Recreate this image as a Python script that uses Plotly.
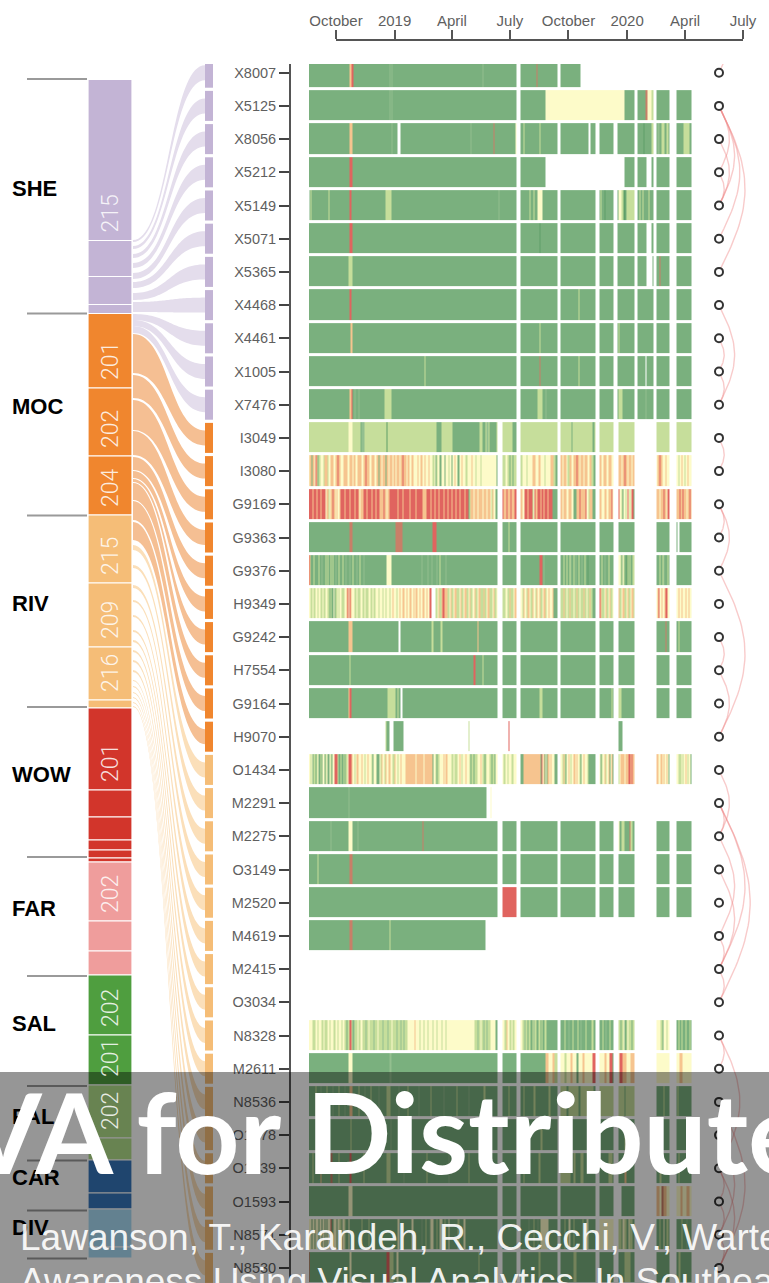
import numpy as np
import pandas as pd
import plotly.graph_objects as go

W, H = 769, 1283

# ---------------------------------------------------------------- cabinets (left stacked bar)
stack_start = 79.5
stack_heights = [161, 36, 28, 9, 74.5, 68, 59, 68, 64, 53, 8, 82, 27, 23, 10, 8, 4,
                 59, 30, 24, 60, 50, 53, 22, 33, 16, 38, 11]
stack_colors = ["#c3b4d5"] * 4 + ["#f0862e"] * 3 + ["#f5bd77"] * 4 + ["#d2352b"] * 6 + \
               ["#ef9d9c"] * 3 + ["#4f9e3f"] * 2 + ["#b2df8a"] * 2 + ["#3676bc"] * 2 + ["#a9dbf5"] * 2
stack_labels = ["215", "", "", "", "201", "202", "204", "215", "209", "216", "", "201", "", "", "", "", "",
                "202", "", "", "202", "201", "202", "", "", "", "", ""]
group_names = ["SHE", "MOC", "RIV", "WOW", "FAR", "SAL", "PAL", "CAR", "DIV"]
group_label_y = [188, 406, 603, 774, 908, 1023, 1116, 1177, 1227]
group_rule_y = [79, 313.5, 515.5, 707, 857, 976, 1086, 1160.5, 1210.5, 1258.5]

# ---------------------------------------------------------------- sensors
sensors = ["X8007", "X5125", "X8056", "X5212", "X5149", "X5071", "X5365", "X4468", "X4461", "X1005", "X7476",
           "I3049", "I3080", "G9169", "G9363", "G9376", "H9349", "G9242", "H7554", "G9164", "H9070",
           "O1434", "M2291", "M2275", "O3149", "M2520", "M4619", "M2415", "O3034", "N8328", "M2611",
           "N8536", "O1478", "O1039", "O1593", "N8571", "N8530"]
sensor_colors = ["#c3b4d5"] * 11 + ["#f0862e"] * 10 + ["#f5bd77"] * 16
ribbon_colors = ["#e4ddec"] * 11 + ["#f5bf93"] * 10 + ["#fbdfb9"] * 16
ribbon_top = [240, 246, 254, 263, 273, 282, 293, 302, 314, 320, 326,
              334, 375, 400, 431, 457, 471, 479, 483, 501, 522,
              545, 565, 585, 600, 615, 630, 640, 650, 660, 670, 680, 686, 692, 697, 702, 706]
ribbon_bottom = [242, 249, 258, 268, 279, 288, 300, 312, 320, 326, 333,
                 373, 398, 430, 455, 470, 478, 482, 500, 520, 540,
                 550, 568, 588, 602, 617, 632, 642, 652, 662, 672, 681, 687, 693, 698, 703, 707]

# ---------------------------------------------------------------- status timeline, one column = 1.57 days
start_date = "2018-08-20"
n_cols = 383
status_colors = {"g": "#7ab07e", "d": "#5f9f68", "m": "#93bf8f", "l": "#c6de9b", "y": "#fdfbc9",
                 "o": "#f6c48f", "b": "#c87f68", "r": "#e0645f"}
status_codes = list(status_colors)

gaps_top = [(208, 212), (249, 252), (287, 291), (305, 309), (326, 329), (345, 348), (361, 368)]
gaps_low = [(189, 194), (208, 212), (249, 252), (287, 291), (305, 310), (326, 348), (361, 368)]
first_low_row = 11

base_status = ["g"] * 37
base_status[11] = "l"
base_status[20] = base_status[27] = base_status[28] = "w"

marks = {
    0: [(41, 43, "o"), (43, 45, "r"), (81, 82, "m"), (83, 84, "m"), (174, 175, "m"), (228, 229, "b"), (272, 383, "w")],
    1: [(81, 82, "m"), (83, 84, "m"), (237, 316, "y"), (249, 252, "y"), (287, 291, "y"), (305, 309, "y"),
        (337, 339, "b"), (339, 343, "y"), (343, 345, "l")],
    2: [(41, 43, "o"), (43, 44, "o"), (83, 84, "m"), (89, 92, "w"), (162, 163, "m"), (185, 186, "b"),
        (207, 208, "y"), (215, 216, "l"), (231, 232, "l"), (280, 282, "w"), (335, 336, "d"), (343, 345, "l"),
        (349, 351, "m"), (353, 356, "l"), (358, 360, "l"), (375, 381, "l")],
    3: [(41, 44, "r"), (237, 316, "w"), (338, 343, "w")],
    4: [(0, 1, "w"), (2, 3, "l"), (20, 21, "l"), (41, 43, "r"), (77, 83, "l"), (190, 191, "m"), (221, 222, "l"),
        (225, 226, "l"), (229, 234, "y"), (292, 293, "l"), (296, 297, "d"), (310, 313, "y"), (313, 315, "l"),
        (315, 317, "d"), (318, 320, "l"), (320, 326, "l"), (331, 332, "l"), (334, 335, "l"), (340, 341, "l")],
    5: [(41, 44, "r"), (231, 232, "d"), (338, 343, "w"), (345, 348, "w")],
    6: [(40, 44, "l"), (338, 344, "w"), (351, 352, "b")],
    7: [(41, 43, "r"), (270, 271, "l")],
    8: [(42, 44, "o"), (231, 232, "l"), (310, 311, "l")],
    9: [(116, 117, "l"), (231, 232, "b"), (270, 271, "l"), (337, 338, "w")],
    10: [(41, 43, "o"), (43, 44, "r"), (46, 47, "m"), (50, 51, "m"), (76, 83, "l"), (229, 234, "l"), (237, 238, "m"),
         (310, 314, "l"), (337, 338, "m")],
    11: [(40, 44, "y"), (52, 53, "g"), (53, 56, "m"), (78, 79, "d"), (128, 133, "g"), (144, 171, "g"),
         (171, 174, "l"), (174, 177, "g"), (178, 180, "m"), (181, 188, "g"), (204, 208, "g"),
         (263, 264, "g"), (284, 286, "g")],
    14: [(41, 44, "b"), (87, 94, "b"), (124, 128, "r"), (200, 201, "l"), (369, 371, "w")],
    15: [(65, 78, "g"), (78, 83, "y")],
    16: [(41, 42, "r"), (42, 43, "o")],
    17: [(40, 44, "o"), (90, 92, "w"), (123, 125, "l"), (132, 134, "l"), (169, 170, "o"), (357, 358, "b"),
         (370, 371, "l")],
    18: [(41, 42, "l"), (165, 167, "r"), (174, 175, "l")],
    19: [(40, 41, "o"), (41, 43, "r"), (79, 87, "l"), (89, 90, "l"), (92, 94, "w"), (231, 234, "l"), (303, 304, "l"),
         (310, 313, "l")],
    20: [(77, 78, "l"), (78, 81, "g"), (85, 95, "g"), (160, 161, "l"), (200, 201, "r"), (310, 314, "g")],
    21: [(40, 43, "r")],
    22: [(40, 41, "m"), (178, 383, "w"), (182, 183, "y")],
    23: [(22, 23, "m"), (40, 44, "y"), (49, 50, "m"), (114, 115, "b"), (310, 311, "y"), (313, 316, "l"),
         (321, 322, "b"), (322, 324, "l")],
    24: [(9, 10, "l"), (41, 44, "b")],
    25: [(189, 190, "o"), (194, 208, "r")],
    26: [(41, 44, "b"), (81, 82, "l"), (177, 383, "w")],
    29: [(36, 38, "l"), (41, 43, "r"), (44, 45, "g")],
    30: [(40, 44, "y"), (81, 83, "m"), (237, 240, "o"), (240, 244, "y"), (244, 246, "o"), (246, 249, "l"),
         (252, 256, "y"), (256, 258, "l"), (258, 262, "y"), (262, 264, "o"), (264, 268, "y"), (268, 270, "g"),
         (270, 274, "y"), (274, 276, "o"), (276, 284, "y"), (284, 287, "r"), (291, 296, "y"), (296, 298, "o"),
         (298, 301, "y"), (301, 304, "r"), (310, 311, "y"), (311, 314, "r"), (314, 318, "o"), (318, 322, "y"),
         (322, 326, "o"), (348, 361, "y"), (368, 371, "y"), (371, 374, "o"), (374, 383, "y")],
    31: [(7, 8, "l"), (12, 13, "m"), (18, 19, "l"), (24, 25, "m"), (30, 31, "l"), (36, 37, "m"), (41, 44, "o"),
         (50, 51, "l"), (56, 57, "m"), (62, 63, "l"), (70, 71, "m"), (78, 82, "l"), (90, 91, "m"), (99, 100, "l"),
         (110, 111, "m"), (122, 123, "l"), (135, 136, "m"), (148, 149, "l"), (160, 161, "m"), (175, 177, "l"),
         (200, 201, "l"), (215, 216, "l"), (225, 227, "l"), (240, 242, "l"), (252, 285, "l"), (258, 260, "g"),
         (270, 272, "g"), (291, 305, "l"), (310, 326, "l"), (316, 317, "g"), (355, 356, "l"), (369, 370, "l")],
    32: [(42, 43, "l"), (82, 83, "m"), (232, 234, "l"), (316, 318, "l")],
    33: [(4, 5, "l"), (12, 13, "o"), (22, 24, "b"), (30, 31, "l"), (41, 43, "r"), (55, 56, "l"), (78, 82, "l"),
         (95, 96, "m"), (118, 119, "l"), (140, 141, "m"), (160, 161, "l"), (215, 216, "l"), (230, 232, "l"),
         (252, 262, "l"), (265, 267, "l"), (272, 275, "l"), (300, 304, "l"), (316, 318, "o"), (351, 353, "l"),
         (370, 371, "l")],
    34: [(40, 44, "y"), (306, 313, "w"), (348, 351, "o"), (351, 353, "y"), (353, 355, "b"), (355, 358, "o"),
         (358, 361, "y"), (368, 372, "y"), (372, 374, "o"), (374, 378, "y"), (378, 381, "o"), (381, 383, "y")],
    36: [(0, 1, "r"), (41, 43, "y"), (78, 81, "r"), (81, 85, "l"), (88, 90, "y"), (170, 171, "l"), (230, 232, "l"),
         (265, 268, "l"), (316, 322, "l"), (370, 372, "l")],
}

stripes = {
    12: [(0, "y1 o2 g1 o2 y1 r1 o1 g1 l2 y3 l1 o3 l1 y2 o3 y2 o2 r1 o2 y3 o4 y2 o3 y1 o2 y2 o1 o3 y2 o2 r1 o3 y2 o3 y2 o2"),
         (71, "o2 y1 o3 g1 o2 y1 o3 y1 o2 y1 o3 y1 o2 r1 o3 y1 o2 y2 o2 y2 y2 o1 y2 o2 y2 o1 y3 o1 y3 l2 y1 g1 l1 y2 g2 y3 g1 y3 l1 y2 g1 y2 o1 y2 g2 y2 o1 y3 l2 y4 o1 y3 l1 y4 l1 y15"),
         (194, "l3 y2 l2 g1 l2 g1 l3"), (212, "l2 y4 l1 y5 o3 y3 o2 y4 l1 y5 o3 l2 g1"),
         (252, "o2 y1 o3 y1 l2 o2 y2 o3 r1 o2 y1 o3 y1 o3 y2 o2 l2"), (291, "o2 y2 o3 y2 o3 y2"),
         (310, "o3 y1 o2 r1 o2 y1 o3 y1 o2"), (348, "y1 o2 r1 o2 y3 o1 y3"), (368, "y2 l1 y2 o1 y2 l1 y2 o1 y3")],
    13: [(0, "r4 o1 r3 o1 r3 o1 r4 y1 o2 l1 y1 o2 r1 o2 y1 o1 y2 o1 r4 o1 r4 o1 r4 o1 r3 o1 y1 o3 r3 o1 r4 o1 r3 o1 r4"),
         (71, "o4 r1 o2 y1 o2 r3 r5 o1 r4 o1 r6 o1 r5 o1 r6 o4 r4 o1 r3 o1 r3 o1 r4 o1 r3 o1 r3 o1 r3 o1 r3 o1 r4 o1 r3 g1 l1 o3 y1 o3 y1 o4 y1 o3 y1 o3 y1 l1 o1 y2"),
         (194, "r1 o3 r1 o3 r1 o3 r2"), (212, "o2 y2 r3 o1 r4 l1 y1 r1 o2 r3 o1 r2 o1 r3 o1 r4"),
         (252, "o2 y1 o3 y2 o3 y2 g3 o3 r1 o5 r1 y2 l1 o3"), (291, "o2 y3 o2 y2 o3 r1 y1"),
         (310, "r1 y2 l1 g1 y2 l1 y1 r1 y1 l1 y1 r2"), (348, "o3 y1 o3 r1 o2 y1 r2"),
         (368, "o3 r1 o2 r1 o3 y1 o2 r1 o1")],
    15: [(0, "r1 o1 g3 l1 g4 l1 g2 m1 g3 l1 g1 l1 g2 l1 g1 l1 g2 m1 g2 l1 g3 l1 g2 m1 g3 m1 g2 l1 g3 m1 g2 l1 g3 m1 g2"),
         (83, "g30 m1 g5 m1 g3 m1 g4 m1 g2 l1 g5 m1 g40"), (194, "g14"), (212, "g19 r3 g1 m1 g4 g10"),
         (252, "g3 l1 g2 l1 g2 l1 m1 g2 l1 g1 m1 g2 l1 g2 m1 g2 l1 g2 d1 g3"), (291, "g2 l1 g2 m1 g3 l1 g4"),
         (310, "y2 l1 g1 y1 l1 g2 d1 l1 g1 l1 g2 l2"), (348, "g3 l1 g2 l1 m1 g3 l1"), (368, "g15")],
    16: [(0, "y2 l2 y1 l2 y2 l1 y2 l2 y1 l2 y2 l2 g1 l1 g2 y1 g1 l2 y1 l1 y2 l3 y2 o1 r1 y1 l2 y3 l2 y1 l3 y2 l2 y1 l3 y2 l2 y1 l2 y3 l1 y2 l2 y1"),
         (71, "y3 l1 y2 l1 y3 l1 y2 o1 y3 l1 y2 o1 y2 o2 y2 o1 y2 o2 y2 o1 y1 o2 y2 o1 y2 o2 y2 o1 y2 r2 w4"),
         (127, "l2 y1 o1 l2 o1 r2 o3 l2 y1 o1 l2 y1 o2 l3 y1 o1 l2 y1 o2 l2 y1 o1 l2 y2 o1 l2 y1 o2 l3 o1 l2 y1 o2 l3 y1 o1 l2 y2"),
         (194, "l3 y2 l2 o1 l3 y1 o2"), (212, "y2 l1 o1 y2 l1 o2 y1 l2 o1 y2 l1 o1 y2 o1 l2 y1 o2 l1 y2 o1 y3 o1"),
         (252, "l3 o1 l2 y1 l2 o1 l3 y1 l2 o1 l2 y1 l3 o1 l2 y1 l2 o1 l2"), (291, "r1 o1 l3 y1 o1 l2 y1 o1 l2 y1"),
         (310, "o1 l2 y1 o2 l2 y1 o1 l2 y1 o2 l1"), (348, "y1 o1 r1 y2 o1 y2 o1 r2 y2"),
         (368, "y2 o1 y2 o1 y3 o1 y2 o1 y2")],
    21: [(0, "y2 l1 y1 g1 l2 g1 l1 y1 g2 l1 g1 y2 g1 l1 y1 g2 y1 l1 g1 y2 r3 l1 g2 l1 g2 l1 g1 l2 y1 o2 y1 o1 y2 l1 y1 o2 y3 o1 y2 l1 y2 o1 y3 l1 g1 y3"),
         (71, "y1 l1 o1 y2 l1 o1 y2 o2 y2 l2 o1 y2 l1 y2 o1 y3 y1 o10 y1 o7 y1 o8"),
         (125, "y2 l1 g1 l2 y4 o1 y1 o2 y4 l2 y1 l3 y2 o1 y1 l1 y3 o1 y3 l1 g1 l2 g1 l3 y1 y2 o1 y1 l2 g1 l1 y3 l2 g1 l2 g1 y2"),
         (194, "y1 l2 y2 l1 y3 l2 y3"), (215, "o17 g1 r1 y1 o1 g1 y1 g1 o2 y1 o1 y3"),
         (252, "y2 l1 o1 l1 g1 y2 o1 y1 l1 y2 o2 y1 o1 y2 l1 g1 y2 o1 y3 l1 g1"), (291, "y1 g1 l1 y2 o1 l1 y2 o1 g1 y1 o1"),
         (310, "l1 y1 o4 y1 o3 r2 o1 r1 o2"), (348, "o2 y2 o2 y1 o1 y2 o1 y1"), (368, "y2 l3 y1 l1 y2 o1 y1 l1 y2")],
    29: [(0, "y4 l3 y2 l1 y3 l2 y1 l3 y2 l1 y3 l2 y2 l1 y3 l1 y2 r1 o1 g1 l3 y1 l2 m1 l3 y1 l2 y2 l3 m1 l2 y1 l4 m1 l3 y1 l2"),
         (71, "l3 m1 l4 m1 l3 y1 l4 m1 l3 m1 l2 m1 l3 y7 o1 y4 l1 y3 l1 y3 l1 y4 l1 y3 l1 y4 l1 y3 l1 y5"),
         (143, "y23 l3 m1 l2 y1 l2 m1 l2 m1 l3 y5"),
         (194, "y2 l2 o1 y2 l2 y1 l2 y2"), (212, "y2 l2 m1 l2 g1 l2 g2 l1 m1 l2 g2 l2 g1 l1 g2 l2 g3"),
         (252, "g4 l1 g3 m1 g3 l1 g4 l1 g2 m1 g4 l1 g5 l2"), (291, "g3 l1 g2 m1 g3 l1 g2"),
         (310, "l2 g1 l2 y1 g2 l1 y1 l3 g1 l2"), (348, "y4 l2 g1 y3 l1 y2"), (368, "g2 l1 g2 l1 g3 l1 g3 l1 g1")],
    35: [(0, "y3 g1 y2 g1 y3 g1 y2 g1 y2 g1 y1 g1 y3 r1 g2 y3 g1 y2 l2 g1 y2 l1 g3 y1 g12 l1 g6 l1 g8"),
         (71, "g18 y2 g12 y2 g8 m1 g3 l1 g3 m1 y3 g3 l1 g2 y3 g2 l1 g3 y1 g8 l2 g4 y2 g8"),
         (212, "g8 m1 g4 l1 g3 m1 g2 y8 g8"), (252, "g4 l1 g3 y2 g3 l1 g8 l1 g3 y2 g5"), (291, "y14"),
         (310, "l3 g1 y2 l2 g2 y1 l3 g2"), (348, "g3 l1 g3 y1 g2 l2 g1"), (368, "g5 l1 g4 m1 g4")],
}

# ---------------------------------------------------------------- links between sensors, row to row
arc_pairs = [(0, -3), (1, 3), (1, 4), (1, 5), (1, 6), (2, 4), (3, 4), (7, 10), (8, 9), (9, 10),
             (11, 12), (13, 14), (13, 15), (15, 20), (17, 18), (18, 20), (21, 23), (22, 23),
             (22, 27), (22, 28), (23, 26), (24, 27), (26, 27), (27, 28), (29, 30), (29, 33),
             (31, 32), (31, 36), (32, 35), (33, 34), (33, 36), (34, 35), (35, 36)]

tick_dates = ["2018-10-01", "2019-01-01", "2019-04-01", "2019-07-01",
              "2019-10-01", "2020-01-01", "2020-04-01", "2020-07-01"]
tick_names = ["October", "2019", "April", "July", "October", "2020", "April", "July"]


def row_codes(i):
    codes = [base_status[i]] * n_cols
    for start, text in stripes.get(i, []):
        pos = start
        for run in text.split():
            n = int(run[1:])
            codes[pos:pos + n] = [run[0]] * n
            pos += n
    for a, b, c in marks.get(i, []):
        codes[a:b] = [c] * (b - a)
    for a, b in (gaps_low if i >= first_low_row else gaps_top):
        if not (i == 1 and (a, b) in [(249, 252), (287, 291), (305, 309)]):
            codes[a:b] = ["w"] * (b - a)
    return codes[:n_cols]


z = [[status_codes.index(c) if c != "w" else None for c in row_codes(i)] for i in range(len(sensors))]
k = len(status_codes)
scale = []
for j, c in enumerate(status_codes):
    scale += [[j / k, status_colors[c]], [(j + 1) / k, status_colors[c]]]

fig = go.Figure()

# status grid
fig.add_trace(go.Heatmap(z=z, x=pd.date_range(start_date, periods=n_cols, freq="135648s"),
                         y=list(range(len(sensors))), colorscale=scale, zmin=-0.5, zmax=k - 0.5,
                         showscale=False, ygap=3, hoverongaps=False, xaxis="x", yaxis="y"))

# keeps the timeline axis on the page
fig.add_trace(go.Scatter(x=tick_dates, y=[0] * 8, mode="lines", opacity=0, hoverinfo="skip",
                         xaxis="x2", yaxis="y"))

# ribbons from the stacked bar to the sensor column
row_h = 33.2
row0 = 72.7
for i in range(len(sensors)):
    yc = row0 + row_h * i
    t = np.linspace(0, 1, 40)
    bx = (1 - t) ** 3 * 133 + 3 * (1 - t) ** 2 * t * 169 + 3 * (1 - t) * t ** 2 * 169 + t ** 3 * 205
    s = 3 * t ** 2 - 2 * t ** 3
    top = ribbon_top[i] + (yc - 7.5 - ribbon_top[i]) * s
    bot = ribbon_bottom[i] + (yc + 7.5 - ribbon_bottom[i]) * s
    fig.add_trace(go.Scatter(x=list(bx) + list(bx[::-1]), y=list(top) + list(bot[::-1]), fill="toself",
                             fillcolor=ribbon_colors[i], mode="none", hoverinfo="skip",
                             xaxis="x3", yaxis="y2"))

# stacked bar
bases = [stack_start + sum(stack_heights[:j]) for j in range(len(stack_heights))]
fig.add_trace(go.Bar(x=[110] * len(bases), y=stack_heights, base=bases, width=44,
                     marker=dict(color=stack_colors, line=dict(color="white", width=1.2)),
                     hoverinfo="skip", xaxis="x3", yaxis="y2"))

# rules beside the bar
rule_x, rule_y = [], []
for y in group_rule_y:
    rule_x += [27, 87, None]
    rule_y += [y, y, None]
fig.add_trace(go.Scatter(x=rule_x, y=rule_y, mode="lines", line=dict(color="#9a9a9a", width=2),
                         hoverinfo="skip", xaxis="x3", yaxis="y2"))

# sensor column
fig.add_trace(go.Bar(y=list(range(len(sensors))), x=[8] * len(sensors), base=[205] * len(sensors), width=0.905,
                     orientation="h", marker=dict(color=sensor_colors, line=dict(width=0)),
                     hoverinfo="skip", xaxis="x3", yaxis="y"))

# arcs
for a, b in arc_pairs:
    t = np.linspace(0, 1, 40)
    bulge = 5.2 * abs(b - a)
    fig.add_trace(go.Scatter(x=719 + bulge * np.sin(np.pi * t), y=a + (b - a) * t, mode="lines",
                             line=dict(color="rgba(238,130,130,0.42)", width=1.4), hoverinfo="skip",
                             xaxis="x3", yaxis="y"))

# circles
fig.add_trace(go.Scatter(x=[719] * len(sensors), y=list(range(len(sensors))), mode="markers",
                         marker=dict(size=8, color="white", line=dict(color="#333333", width=2)),
                         hoverinfo="skip", xaxis="x3", yaxis="y"))

annos = []
for name, y in zip(group_names, group_label_y):
    annos.append(dict(x=10, y=y, xref="x3", yref="y2", text=name, showarrow=False, xanchor="left",
                      font=dict(family="Liberation Sans", size=22, color="black", weight=700)))
for j, lab in enumerate(stack_labels):
    if lab:
        annos.append(dict(x=110, y=bases[j] + stack_heights[j] - 27, xref="x3", yref="y2", text=lab,
                          showarrow=False, textangle=-90,
                          font=dict(family="Roboto", size=23, color="rgba(255,255,255,0.85)", weight=300)))

# banner text over the lower part
annos.append(dict(x=385, y=1130, xref="x3", yref="y2", text="VA for Distribute", showarrow=False,
                  font=dict(family="Lato", size=112, color="white", weight=700)))
annos.append(dict(x=18, y=1237, xref="x3", yref="y2",
                  text="Lawanson, T., Karandeh, R., Cecchi, V., Warte", showarrow=False, xanchor="left",
                  font=dict(family="Liberation Sans", size=37, color="rgba(255,255,255,0.92)")))
annos.append(dict(x=18, y=1281, xref="x3", yref="y2",
                  text="Awareness Using Visual Analytics. In Southea", showarrow=False, xanchor="left",
                  font=dict(family="Liberation Sans", size=37, color="rgba(255,255,255,0.92)")))

fig.update_layout(
    width=W, height=H, margin=dict(l=0, r=0, t=0, b=0, autoexpand=False), showlegend=False, barmode="overlay",
    paper_bgcolor="white", plot_bgcolor="rgba(0,0,0,0)",
    font=dict(family="Liberation Sans", color="#5a5a5a"),
    xaxis=dict(domain=[309 / W, 743 / W], range=[start_date, "2020-07-01"], type="date", visible=False, anchor="y"),
    xaxis2=dict(domain=[336 / W, 743 / W], range=["2018-10-01", "2020-07-01"], type="date", anchor="free",
                position=1 - 40 / H, side="top", tickmode="array", tickvals=tick_dates, ticktext=tick_names,
                ticks="outside", ticklen=9, tickwidth=1.5, tickcolor="#555555", showline=True, linecolor="#555555",
                linewidth=1.5, showgrid=False, zeroline=False, ticklabelstandoff=-2,
                tickfont=dict(size=15, color="#5f5f5f")),
    xaxis3=dict(domain=[0, 1], range=[0, W], visible=False, anchor="y2"),
    yaxis=dict(domain=[0, 1 - 64 / H], range=[(H - row0) / row_h, -(row0 - 64) / row_h], anchor="free",
               position=290 / W, tickmode="array", tickvals=list(range(len(sensors))), ticktext=sensors,
               ticks="outside", ticklen=10, tickwidth=1.5, tickcolor="#444444", showline=True, linecolor="#555555",
               linewidth=2, showgrid=False, zeroline=False, tickfont=dict(size=14.5, color="#5f5f5f")),
    yaxis2=dict(domain=[0, 1], range=[H, 0], visible=False, anchor="x3"),
    annotations=annos,
    shapes=[dict(type="rect", xref="paper", yref="paper", x0=0, x1=1, y0=0, y1=1 - 1072 / H,
                 fillcolor="rgba(0,0,0,0.41)", line=dict(width=0), layer="above")],
)

# the page's default body margin would shift the figure by 8px
fig.write_html("out.html", config={"displayModeBar": False}, post_script="document.body.style.margin='0';")
